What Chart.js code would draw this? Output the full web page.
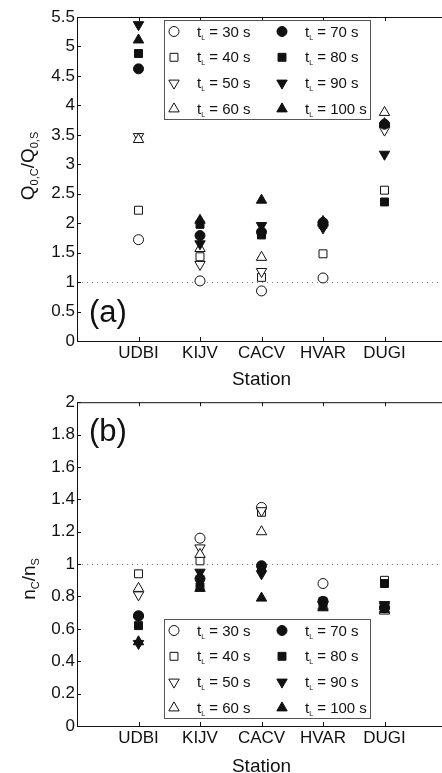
<!DOCTYPE html>
<html>
<head>
<meta charset="utf-8">
<script src="https://cdn.jsdelivr.net/npm/chart.js@4.4.1/dist/chart.umd.min.js"></script>
<style>
  html, body { margin: 0; padding: 0; background: #fff; overflow: hidden; width: 442px; height: 773px; }
  canvas { position: absolute; left: 0; }
  #qChart { top: 0; }
  #nChart { top: 390px; }
</style>
</head>
<body>
<canvas id="qChart" width="450" height="390"></canvas>
<canvas id="nChart" width="450" height="383"></canvas>
<script>
const stations = ['UDBI', 'KIJV', 'CACV', 'HVAR', 'DUGI'];
const lagTimes = [30, 40, 50, 60, 70, 80, 90, 100];

// panel (a): Q0,C / Q0,S per station
const q30  = [1.72, 1.02, 0.85, 1.07, 3.67];
const q40  = [2.22, 1.43, 1.08, 1.48, 2.56];
const q50  = [3.47, 1.30, 1.18, 1.97, 3.58];
const q60  = [3.42, 1.57, 1.42, 2.00, 3.88];
const q70  = [4.62, 1.79, 1.85, 2.01, 3.68];
const q80  = [4.88, 1.98, 1.80, 1.98, 2.36];
const q90  = [5.37, 1.65, 1.96, 1.92, 3.17];
const q100 = [5.11, 2.05, 2.39, 2.03, 3.69];

// panel (b): nC / nS per station
const n30  = [0.68, 1.16, 1.35, 0.88, 0.73];
const n40  = [0.94, 1.02, 1.32, 0.77, 0.90];
const n50  = [0.81, 1.10, 1.33, 0.75, 0.74];
const n60  = [0.85, 1.06, 1.20, 0.74, 0.71];
const n70  = [0.68, 0.91, 0.99, 0.77, 0.73];
const n80  = [0.62, 0.86, 0.97, 0.76, 0.88];
const n90  = [0.51, 0.95, 0.94, 0.75, 0.75];
const n100 = [0.52, 0.85, 0.79, 0.73, 0.72];

const qSeries = [q30, q40, q50, q60, q70, q80, q90, q100];
const nSeries = [n30, n40, n50, n60, n70, n80, n90, n100];

// marker look per lag time (open for 30-60 s, filled for 70-100 s)
const markers = [
  { style: 'circle',   rot: 0,   r: 5,   fill: false },
  { style: 'rect',     rot: 0,   r: 5.6, fill: false },
  { style: 'triangle', rot: 180, r: 6,   fill: false },
  { style: 'triangle', rot: 0,   r: 6,   fill: false },
  { style: 'circle',   rot: 0,   r: 5,   fill: true },
  { style: 'rect',     rot: 0,   r: 5.6, fill: true },
  { style: 'triangle', rot: 180, r: 6,   fill: true },
  { style: 'triangle', rot: 0,   r: 6,   fill: true }
];

const FONT = '"Liberation Sans", Arial, sans-serif';
const INK = '#111';

function buildDatasets(series) {
  return series.map((vals, i) => ({
    label: 't_L = ' + lagTimes[i] + ' s',
    data: vals.map((v, j) => ({ x: j + 1, y: v })),
    showLine: false,
    pointStyle: markers[i].style,
    pointRotation: markers[i].rot,
    pointRadius: markers[i].r,
    pointHoverRadius: markers[i].r,
    pointBorderWidth: 1,
    pointBorderColor: INK,
    pointBackgroundColor: markers[i].fill ? INK : '#fff',
    order: 8 - i
  }));
}

// text pieces with subscripts; parts = [[text, isSub], ...]
function partsWidth(ctx, parts, big, small) {
  let w = 0;
  parts.forEach(p => {
    ctx.font = (p[1] ? small : big) + 'px ' + FONT;
    w += ctx.measureText(p[0]).width;
  });
  return w;
}
function drawParts(ctx, parts, x, y, big, small, subDrop) {
  parts.forEach(p => {
    ctx.font = (p[1] ? small : big) + 'px ' + FONT;
    ctx.fillText(p[0], x, p[1] ? y + subDrop : y);
    x += ctx.measureText(p[0]).width;
  });
}

const decor = {
  id: 'decor',
  beforeDatasetsDraw(chart, args, opts) {
    const { ctx, chartArea: a, scales } = chart;
    const y1 = scales.y.getPixelForValue(1);
    ctx.save();
    ctx.strokeStyle = '#777';
    ctx.lineWidth = 1;
    ctx.setLineDash([1, 4]);
    ctx.beginPath();
    ctx.moveTo(a.left, Math.round(y1) + 0.5);
    ctx.lineTo(a.right, Math.round(y1) + 0.5);
    ctx.stroke();
    ctx.restore();
  },
  afterDraw(chart, args, opts) {
    const { ctx, chartArea: a, scales } = chart;
    ctx.save();
    // box
    ctx.strokeStyle = INK;
    ctx.lineWidth = 1;
    ctx.strokeRect(a.left + 0.5, a.top + 0.5, a.right - a.left, a.bottom - a.top);
    // inward ticks
    ctx.beginPath();
    scales.y.ticks.forEach(t => {
      const py = Math.round(scales.y.getPixelForValue(t.value)) + 0.5;
      ctx.moveTo(a.left, py); ctx.lineTo(a.left + 4, py);
      ctx.moveTo(a.right, py); ctx.lineTo(a.right - 4, py);
    });
    scales.x.ticks.forEach(t => {
      const px = Math.round(scales.x.getPixelForValue(t.value)) + 0.5;
      ctx.moveTo(px, a.bottom); ctx.lineTo(px, a.bottom - 4);
      ctx.moveTo(px, a.top); ctx.lineTo(px, a.top + 4);
    });
    ctx.stroke();

    ctx.fillStyle = INK;
    ctx.textBaseline = 'alphabetic';
    // panel letter
    ctx.font = '31px ' + FONT;
    ctx.fillText(opts.panel, opts.panelX, opts.panelY);
    // x title
    ctx.font = '19px ' + FONT;
    ctx.textAlign = 'center';
    ctx.fillText('Station', scales.x.getPixelForValue(3), opts.xTitleY);
    ctx.textAlign = 'left';
    // y title (rotated, with subscripts)
    ctx.save();
    ctx.translate(opts.yTitleX, opts.yTitleY);
    ctx.rotate(-Math.PI / 2);
    const w = partsWidth(ctx, opts.yTitle, 19, 11);
    drawParts(ctx, opts.yTitle, -w / 2, 7, 19, 11, 4);
    ctx.restore();

    // legend box, two columns of four
    const L = opts.legend;
    ctx.strokeStyle = '#555';
    ctx.fillStyle = '#fff';
    ctx.fillRect(L.x, L.y, L.w, L.h);
    ctx.strokeRect(L.x + 0.5, L.y + 0.5, L.w, L.h);
    chart.data.datasets.forEach((ds, i) => {
      const col = Math.floor(i / 4), row = i % 4;
      const cy = L.y + 11.5 + row * 25.8;
      const mx = L.x + 10 + col * 108;
      const m = markers[i];
      ctx.strokeStyle = INK;
      ctx.fillStyle = m.fill ? INK : '#fff';
      ctx.lineWidth = 1;
      Chart.helpers.drawPoint(ctx, { pointStyle: m.style, rotation: m.rot, radius: m.r, borderWidth: 1 }, mx, cy);
      ctx.fillStyle = INK;
      drawParts(ctx, [['t', false], ['L', true], [' = ' + lagTimes[i] + ' s', false]], mx + 23, cy + 5, 15, 7, 3);
    });
    ctx.restore();
  }
};

function makeChart(id, series, yMax, yStep, pad, opts) {
  return new Chart(document.getElementById(id), {
    type: 'scatter',
    data: { datasets: buildDatasets(series) },
    options: {
      responsive: false,
      animation: false,
      devicePixelRatio: 1,
      layout: { autoPadding: false, padding: pad },
      plugins: { legend: { display: false }, tooltip: { enabled: false }, decor: opts },
      scales: {
        x: {
          type: 'linear', min: 0, max: 6,
          afterBuildTicks: s => { s.ticks = stations.map((_, i) => ({ value: i + 1 })); },
          afterFit: s => { s.height = 30; },
          grid: { display: false, drawTicks: false },
          border: { display: false },
          ticks: {
            padding: 2, color: INK, maxRotation: 0, autoSkip: false,
            font: { family: FONT, size: 17 },
            callback: v => stations[v - 1] || ''
          }
        },
        y: {
          min: 0, max: yMax,
          afterFit: s => { s.width = 77; },
          grid: { display: false, drawTicks: false },
          border: { display: false },
          ticks: {
            stepSize: yStep, padding: 2, color: INK,
            font: { family: FONT, size: 17 },
            callback: v => String(+v.toFixed(2))
          }
        }
      }
    },
    plugins: [decor]
  });
}

makeChart('qChart', qSeries, 5.5, 0.5,
  { left: 0, right: 4, top: 17, bottom: 19 },
  {
    panel: '(a)', panelX: 89, panelY: 322, xTitleY: 385,
    yTitleX: 27, yTitleY: 166,
    yTitle: [['Q', false], ['0,C', true], ['/Q', false], ['0,S', true]],
    legend: { x: 164, y: 20, w: 206, h: 99 }
  });

makeChart('nChart', nSeries, 2, 0.2,
  { left: 0, right: 4, top: 11, bottom: 17 },
  {
    panel: '(b)', panelX: 89, panelY: 441 - 390, xTitleY: 772 - 390,
    yTitleX: 28, yTitleY: 579 - 390,
    yTitle: [['n', false], ['C', true], ['/n', false], ['S', true]],
    legend: { x: 164, y: 619 - 390, w: 206, h: 99 }
  });
</script>
</body>
</html>
